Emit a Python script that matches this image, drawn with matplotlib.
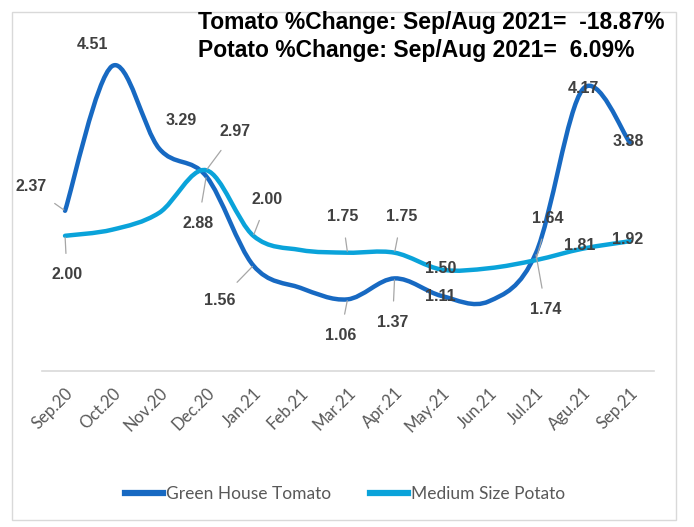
import numpy as np
import matplotlib.pyplot as plt
from matplotlib.path import Path
from matplotlib.patches import PathPatch, Rectangle
from matplotlib.lines import Line2D

months = ["Sep.20", "Oct.20", "Nov.20", "Dec.20", "Jan.21", "Feb.21", "Mar.21",
          "Apr.21", "May.21", "Jun.21", "Jul.21", "Agu.21", "Sep.21"]
tomato = [2.37, 4.51, 3.29, 2.88, 1.56, 1.23, 1.06, 1.37, 1.11, 1.03, 1.74, 4.17, 3.38]
potato = [2.00, 2.09, 2.34, 2.97, 2.00, 1.79, 1.75, 1.75, 1.50, 1.52, 1.64, 1.81, 1.92]

# which points carry a label (Feb/Jun are unlabeled in the original)
tomato_lab = [True, True, True, True, True, False, True, True, True, False, True, True, True]
potato_lab = [True, False, False, True, True, False, True, True, True, False, True, True, True]

# label offsets (pixels) and whether a leader line is drawn
tomato_off = [(-34, 24), (-20, 22), (22, 28), (-8, -47), (-34, -35), None, (-7, -36),
              (-2, -44), (-1, -1), None, (10, -56), (1, 1), (-2, 1)]
tomato_lead = [True, False, False, True, True, False, True, True, False, False, True, False, False]
potato_off = [(2, -39), None, None, (29, 39), (14, 36), None, (-5, 36), (7, 36),
              (-1, 1), None, (12, 42), (-3, 3), (-2, 2)]
potato_lead = [True, False, False, True, True, False, True, True, False, False, True, False, False]

c_tom = "#1769C2"
c_pot = "#0AA3DA"
lab_font = ["Liberation Sans", "DejaVu Sans"]
axis_font = ["Lato", "DejaVu Sans"]


def smooth_path(xs, ys, t=1/6):
    pts = np.column_stack([xs, ys]).astype(float)
    n = len(pts)
    verts = [pts[0]]
    codes = [Path.MOVETO]
    for i in range(n - 1):
        p0 = pts[i - 1] if i > 0 else pts[i]
        p1, p2 = pts[i], pts[i + 1]
        p3 = pts[i + 2] if i + 2 < n else pts[i + 1]
        verts += [p1 + (p2 - p0) * t, p2 - (p3 - p1) * t, p2]
        codes += [Path.CURVE4] * 3
    return Path(verts, codes)


fig = plt.figure(figsize=(6.94, 5.27), dpi=100)
fig.patches.append(Rectangle((12 / 694, 7 / 527), 664 / 694, 508 / 527,
                             transform=fig.transFigure, fill=False,
                             edgecolor="#d9d9d9", linewidth=1))
ax = fig.add_axes([41.5 / 694, 156 / 527, 612 / 694, 338 / 527])

x = np.arange(len(months))
for vals, col in [(tomato, c_tom), (potato, c_pot)]:
    ax.add_patch(PathPatch(smooth_path(x, vals), facecolor="none", edgecolor=col,
                           linewidth=3.2, capstyle="round", joinstyle="round"))

for vals, labs, offs, leads in [(tomato, tomato_lab, tomato_off, tomato_lead),
                                (potato, potato_lab, potato_off, potato_lead)]:
    for i, v in enumerate(vals):
        if not labs[i]:
            continue
        dx, dy = offs[i]
        kw = {}
        if leads[i]:
            kw["arrowprops"] = dict(arrowstyle="-", color="#a6a6a6", lw=0.9,
                                    shrinkA=8, shrinkB=1)
        ax.annotate(f"{v:.2f}", (i, v), xytext=(dx, dy), textcoords="offset pixels",
                    ha="center", va="center", fontsize=11.5, fontweight="bold",
                    color="#404040", family=lab_font, **kw)

ax.set_xlim(-0.5, len(months) - 0.5)
ax.set_ylim(0, 5)
ax.set_yticks([])
ax.set_xticks(x)
ax.set_xticklabels(months, rotation=45, ha="right", va="top",
                   rotation_mode="anchor", fontsize=12, color="#595959",
                   family=axis_font)
ax.tick_params(axis="x", length=0, pad=10)
for s in ["left", "right", "top"]:
    ax.spines[s].set_visible(False)
ax.spines["bottom"].set_color("#d9d9d9")
ax.spines["bottom"].set_linewidth(1.2)
ax.patch.set_alpha(0)

fig.text(198 / 694, 1 - 23 / 527, "Tomato %Change: Sep/Aug 2021=  -18.87%",
         ha="left", va="center", fontsize=16.5, fontweight="bold", color="black",
         family=lab_font)
fig.text(198 / 694, 1 - 51 / 527, "Potato %Change: Sep/Aug 2021=  6.09%",
         ha="left", va="center", fontsize=16.5, fontweight="bold", color="black",
         family=lab_font)

handles = [Line2D([], [], color=c_tom, lw=4.5), Line2D([], [], color=c_pot, lw=4.5)]
fig.legend(handles, ["Green House Tomato", "Medium Size Potato"], loc="center",
           bbox_to_anchor=(345 / 694, 1 - 494 / 527), ncol=2, frameon=False,
           handlelength=2.2, handletextpad=0.2, columnspacing=2.2,
           prop={"family": axis_font, "size": 12.5},
           labelcolor="#595959")

fig.savefig("out.png", dpi=100)
